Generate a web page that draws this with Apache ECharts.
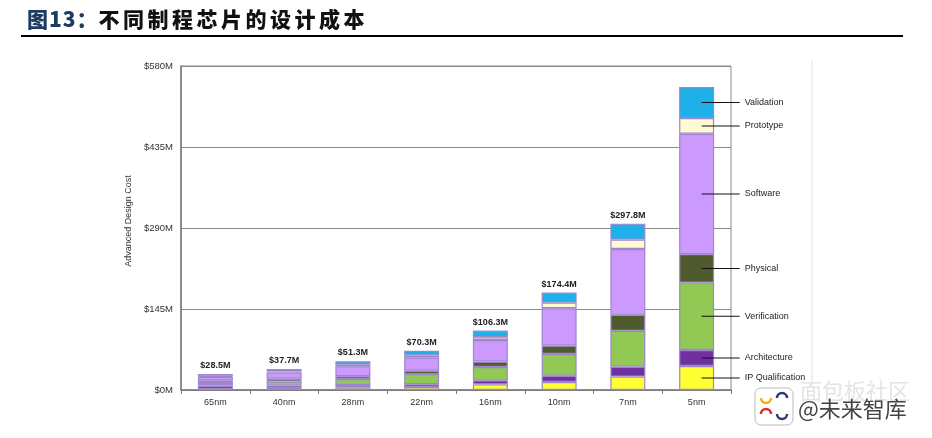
<!DOCTYPE html>
<html><head><meta charset="utf-8">
<script src="https://cdn.jsdelivr.net/npm/echarts@6/dist/echarts.min.js"></script>
<style>
html,body{margin:0;padding:0;background:#fff;}
#wrap{position:relative;width:932px;height:438px;overflow:hidden;}
#chart{position:absolute;left:0;top:0;width:932px;height:438px;}
#title{position:absolute;left:27px;top:4px;font-family:"Noto Sans CJK SC",sans-serif;font-weight:900;font-size:21px;color:#111;white-space:nowrap;line-height:28px;}
#title .num{color:#1b3b63;letter-spacing:1px;}
#title .txt{letter-spacing:3.5px;}
#rule{position:absolute;left:21px;top:35px;width:882px;height:2px;background:#000;}
</style></head>
<body><div id="wrap"><div id="chart"></div><div id="title"><span class="num">图13：</span><span class="txt">不同制程芯片的设计成本</span></div><div id="rule"></div></div>
<script>
var categories = ['65nm','40nm','28nm','22nm','16nm','10nm','7nm','5nm'];
var totals = [28.5, 37.7, 51.3, 70.3, 106.3, 174.4, 297.8, 542.2];
var ipQualification = [2, 3.7, 5, 5.5, 10, 14.4, 24, 43];
var architecture = [6, 4.5, 4, 5, 7.3, 11, 17.9, 28.7];
var verification = [4.5, 7, 10.8, 18, 24, 39, 64, 120.5];
var physical = [4, 5, 5, 6, 9.5, 15, 28.6, 51];
var software = [7, 11, 17.5, 23.8, 38.5, 67, 118, 215.5];
var prototype = [2, 2, 3, 3.6, 5, 10, 16.7, 28];
var validation = [3, 4.5, 6, 8.4, 12, 18, 28.6, 55.5];
var yTicks = [0, 145, 290, 435, 580];

var seriesDefs = [
  {name:'IP Qualification', data: ipQualification, color:'#ffff33'},
  {name:'Architecture', data: architecture, color:'#7030a0'},
  {name:'Verification', data: verification, color:'#92c954'},
  {name:'Physical', data: physical, color:'#4f5b2c'},
  {name:'Software', data: software, color:'#cc99ff'},
  {name:'Prototype', data: prototype, color:'#fffbd2'},
  {name:'Validation', data: validation, color:'#1eb0e8'}
];
var last = categories.length - 1;
var series = seriesDefs.map(function(s, si){
  var data = s.data.map(function(v, i){
    var item = {value: v};
    if (i === last) {
      item.label = {
        show: true,
        position: ['50%','50%'],
        offset: [5, 0],
        align: 'left',
        verticalAlign: 'middle',
        fontWeight: 'normal',
        formatter: '{l|}{t|' + s.name + '}',
        rich: {
          l: {width: 38, height: 1, backgroundColor: '#111'},
          t: {fontSize: 9, fontWeight: 'normal', color: '#222', padding: [0,0,0,5], fontFamily: 'Liberation Sans'}
        }
      };
    }
    return item;
  });
  var o = {
    name: s.name,
    type: 'bar',
    stack: 'total',
    barWidth: 35,
    data: data,
    itemStyle: {color: s.color, borderColor: '#9d86cc', borderWidth: 1.2},
    emphasis: {disabled: true},
    animation: false
  };
  if (si === seriesDefs.length - 1) {
    o.label = {
      show: true, position: 'top', distance: 4,
      fontSize: 9, fontWeight: 'bold', color: '#222', fontFamily: 'Liberation Sans',
      formatter: function(p){ return '$' + totals[p.dataIndex].toFixed(1) + 'M'; }
    };
  }
  return o;
});

var chart = echarts.init(document.getElementById('chart'), null, {renderer:'canvas'});
chart.setOption({
  animation: false,
  backgroundColor: '#fff',
  textStyle: {fontFamily: 'Liberation Sans'},
  grid: {left: 181, right: 201, top: 66, bottom: 48, show: true, borderColor: '#8a8a8a', borderWidth: 1},
  xAxis: {
    type: 'category', data: categories,
    axisLine: {lineStyle: {color: '#7a7a7a', width: 1.5}},
    axisTick: {show: true, length: 4, lineStyle: {color: '#7a7a7a'}},
    axisLabel: {fontSize: 9, color: '#333', margin: 8}
  },
  yAxis: {
    type: 'value', min: yTicks[0], max: yTicks[yTicks.length-1], interval: yTicks[1]-yTicks[0],
    name: 'Advanced Design Cost', nameLocation: 'middle', nameGap: 44,
    nameTextStyle: {fontSize: 9, color: '#333', padding: [0,0,0,14]},
    axisLine: {show: true, lineStyle: {color: '#7a7a7a', width: 1.5}},
    axisTick: {show: false},
    splitLine: {lineStyle: {color: '#8a8a8a', width: 1}},
    axisLabel: {fontSize: 9.5, color: '#333', margin: 8, formatter: function(v){ return '$' + v + 'M'; }}
  },
  graphic: [
    {type: 'line', shape: {x1: 812, y1: 60, x2: 812, y2: 388}, style: {stroke: '#e2e2e2', lineWidth: 1}},
    {type: 'text', left: 800, top: 380, style: {text: '面包板社区', fontSize: 22, fill: '#e4e4e4', fontFamily: 'Noto Sans CJK SC'}},
    {type: 'rect', shape: {x: 755, y: 388, width: 38, height: 37, r: 6}, style: {fill: '#fff', stroke: '#bbb', lineWidth: 1}},
    {type: 'arc', shape: {cx: 766, cy: 398, r: 5, startAngle: 0, endAngle: Math.PI}, style: {stroke: '#f0b400', lineWidth: 2.5, fill: null}},
    {type: 'arc', shape: {cx: 782, cy: 398, r: 5, startAngle: Math.PI, endAngle: 2*Math.PI}, style: {stroke: '#2b3a7a', lineWidth: 2.5, fill: null}},
    {type: 'arc', shape: {cx: 766, cy: 414, r: 5, startAngle: Math.PI, endAngle: 2*Math.PI}, style: {stroke: '#d83030', lineWidth: 2.5, fill: null}},
    {type: 'arc', shape: {cx: 782, cy: 414, r: 5, startAngle: 0, endAngle: Math.PI}, style: {stroke: '#2b3a7a', lineWidth: 2.5, fill: null}},
    {type: 'text', left: 798, top: 398, style: {text: '@未来智库', fontSize: 22, fill: '#444', fontFamily: 'Noto Sans CJK SC'}}
  ],
  series: series
});
</script></body></html>
